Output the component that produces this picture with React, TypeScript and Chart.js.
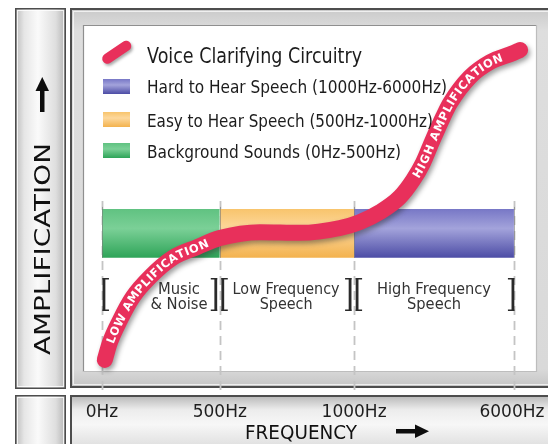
import React, { useEffect, useRef } from "react";
import { Chart, registerables } from "chart.js";

Chart.register(...registerables);

// ---------- data ----------
const frequencyTicks = ["0Hz", "500Hz", "1000Hz", "6000Hz"];
const frequencyTickPos = [0, 28.6, 61.2, 100];

const curveX = [0.7, 1.9, 4.4, 7.5, 11.7, 17.2, 23.1, 28.6, 38.3, 48.1, 57.8, 62.6, 67.5, 72.3, 75.5, 77.9, 80.3, 82.8, 84.5, 89.3, 94.2, 99.8, 101.5];
const curveY = [3.5, 8.4, 15.0, 21.6, 27.4, 32.9, 36.0, 38.6, 40.3, 40.1, 41.5, 43.2, 46.1, 50.4, 55.3, 60.2, 66.9, 73.5, 77.5, 85.0, 89.3, 91.9, 92.8];

const bandNames = ["Background Sounds", "Easy to Hear Speech", "Hard to Hear Speech"];
const bandFrom = [0, 28.6, 61.2];
const bandTo = [28.6, 61.2, 100];
const bandBottom = [32.9, 32.9, 32.9];
const bandTop = [47.0, 47.0, 47.0];

const legendLabels = [
  "Voice Clarifying Circuitry",
  "Hard to Hear Speech (1000Hz-6000Hz)",
  "Easy to Hear Speech (500Hz-1000Hz)",
  "Background Sounds (0Hz-500Hz)",
];

const rangeLabels = [
  ["Music", "& Noise"],
  ["Low Frequency", "Speech"],
  ["High Frequency", "Speech"],
];
const rangeLabelPos = [18.7, 44.7, 80.6];

const curveLabels = ["LOW AMPLIFICATION", "HIGH AMPLIFICATION"];
const curveLabelFrom = [1.9, 76.0];
const curveLabelTo = [25.7, 97.1];

const yTitle = "AMPLIFICATION";
const xTitle = "FREQUENCY";

// ---------- styles ----------
const FONT = "'DejaVu Sans', sans-serif";
const CURVE_COLOR = "#e8305b";
const bandGradStops = [
  ["#60c281", "#7bd097", "#2ea458"],
  ["#f8c46c", "#fdd89c", "#f3b24e"],
  ["#7777c6", "#a3a3db", "#4c4ca5"],
];

function vGrad(ctx: CanvasRenderingContext2D, y0: number, y1: number, stops: string[]) {
  const g = ctx.createLinearGradient(0, y0, 0, y1);
  g.addColorStop(0, stops[0]);
  g.addColorStop(0.4, stops[1]);
  g.addColorStop(1, stops[2]);
  return g;
}

function fillFitted(
  ctx: CanvasRenderingContext2D,
  text: string,
  x: number,
  y: number,
  size: number,
  width: number,
  align: CanvasTextAlign,
  weight = "normal"
) {
  ctx.font = `${weight} ${size}px ${FONT}`;
  const w = ctx.measureText(text).width;
  const sx = width / w;
  ctx.save();
  ctx.translate(x, y);
  ctx.scale(sx, 1);
  ctx.textAlign = align;
  ctx.textBaseline = "alphabetic";
  ctx.fillText(text, 0, 0);
  ctx.restore();
  return sx;
}

function panel(ctx: CanvasRenderingContext2D, x: number, y: number, w: number, h: number) {
  const g = ctx.createLinearGradient(x, 0, x + w, 0);
  g.addColorStop(0, "#b9b9b9");
  g.addColorStop(0.18, "#e6e6e6");
  g.addColorStop(0.45, "#fafafa");
  g.addColorStop(0.8, "#dedede");
  g.addColorStop(1, "#b2b2b2");
  ctx.fillStyle = g;
  ctx.fillRect(x, y, w, h);
  ctx.strokeStyle = "#4d4d4d";
  ctx.lineWidth = 1.5;
  ctx.strokeRect(x + 0.75, y + 0.75, w - 1.5, h - 1.5);
  ctx.strokeStyle = "rgba(255,255,255,0.8)";
  ctx.lineWidth = 1;
  ctx.strokeRect(x + 2.5, y + 2.5, w - 5, h - 5);
}

function bracket(ctx: CanvasRenderingContext2D, x: number, top: number, bottom: number, dir: number) {
  ctx.fillRect(x - 1.4, top, 2.8, bottom - top);
  const sx = dir > 0 ? x - 1.4 : x - 5;
  ctx.fillRect(sx, top, 6.4, 1.5);
  ctx.fillRect(sx, bottom - 1.5, 6.4, 1.5);
}

function curvePolyline(chart: any) {
  const pts = chart.getDatasetMeta(0).data as any[];
  const poly: { x: number; y: number }[] = [];
  for (let i = 0; i < pts.length - 1; i++) {
    const a = pts[i];
    const b = pts[i + 1];
    const c1x = a.cp2x ?? a.x, c1y = a.cp2y ?? a.y;
    const c2x = b.cp1x ?? b.x, c2y = b.cp1y ?? b.y;
    for (let k = 0; k < 20; k++) {
      const t = k / 20;
      const mt = 1 - t;
      const x = mt * mt * mt * a.x + 3 * mt * mt * t * c1x + 3 * mt * t * t * c2x + t * t * t * b.x;
      const y = mt * mt * mt * a.y + 3 * mt * mt * t * c1y + 3 * mt * t * t * c2y + t * t * t * b.y;
      poly.push({ x, y });
    }
  }
  const last = pts[pts.length - 1];
  poly.push({ x: last.x, y: last.y });
  const cum = [0];
  for (let i = 1; i < poly.length; i++) {
    cum.push(cum[i - 1] + Math.hypot(poly[i].x - poly[i - 1].x, poly[i].y - poly[i - 1].y));
  }
  return { poly, cum };
}

function arcAtX(poly: { x: number; y: number }[], cum: number[], px: number) {
  for (let i = 1; i < poly.length; i++) {
    if (poly[i].x >= px) {
      const f = (px - poly[i - 1].x) / Math.max(1e-6, poly[i].x - poly[i - 1].x);
      return cum[i - 1] + f * (cum[i] - cum[i - 1]);
    }
  }
  return cum[cum.length - 1];
}

function pointAtArc(poly: { x: number; y: number }[], cum: number[], s: number) {
  let i = 1;
  while (i < cum.length - 1 && cum[i] < s) i++;
  const f = (s - cum[i - 1]) / Math.max(1e-6, cum[i] - cum[i - 1]);
  const a = poly[i - 1], b = poly[i];
  return { x: a.x + (b.x - a.x) * f, y: a.y + (b.y - a.y) * f, ang: Math.atan2(b.y - a.y, b.x - a.x) };
}

const decorPlugin = {
  id: "decor",
  beforeDraw(chart: any) {
    const ctx: CanvasRenderingContext2D = chart.ctx;
    const ca = chart.chartArea;
    ctx.save();
    panel(ctx, 15, 8, 51, 381);
    panel(ctx, 15, 395, 51, 60);
    const g = ctx.createLinearGradient(0, 8, 0, 388);
    g.addColorStop(0, "#c9c9c9");
    g.addColorStop(0.06, "#dedede");
    g.addColorStop(0.95, "#d9d9d9");
    g.addColorStop(1, "#c4c4c4");
    ctx.fillStyle = g;
    ctx.fillRect(70, 8, 490, 380);
    ctx.strokeStyle = "#4d4d4d";
    ctx.lineWidth = 2;
    ctx.strokeRect(71, 9, 490, 378);
    ctx.strokeStyle = "rgba(255,255,255,0.7)";
    ctx.lineWidth = 1;
    ctx.strokeRect(73.5, 11.5, 490, 373);
    ctx.fillStyle = "#ffffff";
    ctx.fillRect(ca.left, ca.top, ca.right - ca.left, ca.bottom - ca.top);
    ctx.strokeStyle = "#8f8f8f";
    ctx.lineWidth = 1.2;
    ctx.beginPath();
    ctx.moveTo(ca.left + 0.5, ca.bottom);
    ctx.lineTo(ca.left + 0.5, ca.top + 0.5);
    ctx.lineTo(ca.right, ca.top + 0.5);
    ctx.stroke();
    ctx.strokeStyle = "#bdbdbd";
    ctx.beginPath();
    ctx.moveTo(ca.left, ca.bottom - 0.5);
    ctx.lineTo(ca.right - 0.5, ca.bottom - 0.5);
    ctx.lineTo(ca.right - 0.5, ca.top);
    ctx.stroke();
    const gb = ctx.createLinearGradient(0, 395, 0, 444);
    gb.addColorStop(0, "#b5b5b5");
    gb.addColorStop(0.3, "#ececec");
    gb.addColorStop(0.6, "#f7f7f7");
    gb.addColorStop(1, "#e2e2e2");
    ctx.fillStyle = gb;
    ctx.fillRect(70, 395, 490, 60);
    ctx.strokeStyle = "#4d4d4d";
    ctx.lineWidth = 2;
    ctx.strokeRect(71, 396, 490, 60);
    ctx.restore();
  },
  beforeDatasetsDraw(chart: any) {
    const ctx: CanvasRenderingContext2D = chart.ctx;
    const xs = chart.scales.x;
    const ys = chart.scales.y;
    ctx.save();
    ctx.strokeStyle = "#c4c4c4";
    ctx.lineWidth = 1.8;
    ctx.setLineDash([9, 6]);
    const top = ys.getPixelForValue(bandTop[0]) - 8;
    frequencyTickPos.forEach((v) => {
      const px = Math.round(xs.getPixelForValue(v)) + 0.5;
      ctx.beginPath();
      ctx.moveTo(px, top);
      ctx.lineTo(px, 392);
      ctx.stroke();
    });
    ctx.restore();
  },
  beforeDatasetDraw(chart: any, args: any) {
    if (args.index !== 0) return;
    const ctx: CanvasRenderingContext2D = chart.ctx;
    const xs = chart.scales.x;
    const ys = chart.scales.y;
    ctx.save();
    ctx.strokeStyle = "rgba(120,120,120,0.6)";
    ctx.lineWidth = 1;
    frequencyTickPos.forEach((v) => {
      const px = Math.round(xs.getPixelForValue(v)) + 0.5;
      ctx.beginPath();
      ctx.moveTo(px, ys.getPixelForValue(bandTop[0]) - 2);
      ctx.lineTo(px, ys.getPixelForValue(bandBottom[0]));
      ctx.stroke();
    });
    ctx.restore();
    ctx.save();
    ctx.shadowColor = "rgba(40,40,40,0.45)";
    ctx.shadowBlur = 5;
    ctx.shadowOffsetX = 2;
    ctx.shadowOffsetY = 3;
  },
  afterDatasetDraw(chart: any, args: any) {
    if (args.index !== 0) return;
    chart.ctx.restore();
  },
  afterDatasetsDraw(chart: any) {
    const ctx: CanvasRenderingContext2D = chart.ctx;
    const xs = chart.scales.x;
    ctx.save();

    const { poly, cum } = curvePolyline(chart);
    ctx.fillStyle = "#ffffff";
    const cs = 11.5;
    ctx.font = `bold ${cs}px ${FONT}`;
    ctx.textAlign = "center";
    ctx.textBaseline = "alphabetic";
    curveLabels.forEach((label, li) => {
      const s0 = arcAtX(poly, cum, xs.getPixelForValue(curveLabelFrom[li]));
      const s1 = arcAtX(poly, cum, xs.getPixelForValue(curveLabelTo[li]));
      const chars = [...label];
      const widths = chars.map((c) => ctx.measureText(c).width);
      const total = widths.reduce((a, b) => a + b, 0);
      const k = Math.min(1, (s1 - s0) / total);
      const sp = (s1 - s0 - total * k) / (chars.length - 1);
      let s = s0;
      chars.forEach((c, i) => {
        const w = widths[i] * k;
        const p = pointAtArc(poly, cum, s + w / 2);
        ctx.save();
        ctx.translate(p.x, p.y);
        ctx.rotate(p.ang);
        ctx.scale(k, 1);
        ctx.fillText(c, 0, cs * 0.36);
        ctx.restore();
        s += w + sp;
      });
    });

    // legend
    ctx.save();
    ctx.shadowColor = "rgba(40,40,40,0.4)";
    ctx.shadowBlur = 3;
    ctx.shadowOffsetX = 1.5;
    ctx.shadowOffsetY = 2;
    ctx.strokeStyle = CURVE_COLOR;
    ctx.lineWidth = 10.5;
    ctx.lineCap = "round";
    ctx.beginPath();
    ctx.moveTo(107.5, 58.5);
    ctx.lineTo(126, 46);
    ctx.stroke();
    ctx.restore();
    const legendBoxY = [79, 112, 143];
    const legendBands = [2, 1, 0];
    legendBoxY.forEach((y, i) => {
      ctx.fillStyle = vGrad(ctx, y, y + 15, bandGradStops[legendBands[i]]);
      ctx.fillRect(103, y, 27, 15);
    });
    ctx.fillStyle = "#1c1c1c";
    fillFitted(ctx, legendLabels[0], 147, 63, 21.5, 215, "left");
    const legendBase = [93, 126.5, 158];
    const legendW = [300, 286, 254];
    legendBase.forEach((b, i) => fillFitted(ctx, legendLabels[i + 1], 147, b, 17.5, legendW[i], "left"));

    // range labels
    ctx.fillStyle = "#333333";
    const rangeW = [42, 107, 114];
    rangeLabels.forEach((lines, i) => {
      const cx = xs.getPixelForValue(rangeLabelPos[i]);
      const sx = fillFitted(ctx, lines[0], cx, 294, 15, rangeW[i], "center");
      ctx.font = `normal 15px ${FONT}`;
      const w2 = ctx.measureText(lines[1]).width * sx;
      fillFitted(ctx, lines[1], cx, 309, 15, w2, "center");
    });

    // brackets
    ctx.fillStyle = "#2a2a2a";
    const bt = 278, bb = 311;
    frequencyTickPos.forEach((v, i) => {
      const px = xs.getPixelForValue(v);
      if (i > 0) bracket(ctx, px - (i === frequencyTickPos.length - 1 ? 1 : 4), bt, bb, -1);
      if (i < frequencyTickPos.length - 1) bracket(ctx, px + (i === 0 ? 2 : 3), bt, bb, 1);
    });

    // frequency tick labels
    ctx.fillStyle = "#1e1e1e";
    ctx.font = `normal 17px ${FONT}`;
    ctx.textAlign = "center";
    ctx.textBaseline = "alphabetic";
    frequencyTicks.forEach((t, i) => {
      let px = xs.getPixelForValue(frequencyTickPos[i]);
      if (i === frequencyTicks.length - 1) px -= 2;
      ctx.fillText(t, px, 417);
    });

    // axis titles
    ctx.fillStyle = "#111111";
    fillFitted(ctx, xTitle, 301, 439, 19.5, 112, "center");
    ctx.save();
    ctx.translate(42, 249);
    ctx.rotate(-Math.PI / 2);
    fillFitted(ctx, yTitle, 0, 8, 22, 212, "center");
    ctx.restore();

    // arrows
    ctx.fillStyle = "#0d0d0d";
    ctx.fillRect(40, 89, 4.5, 23);
    ctx.beginPath();
    ctx.moveTo(42.25, 77);
    ctx.lineTo(49, 91);
    ctx.lineTo(35.5, 91);
    ctx.closePath();
    ctx.fill();
    ctx.fillRect(396, 429, 20, 4.5);
    ctx.beginPath();
    ctx.moveTo(429, 431.25);
    ctx.lineTo(415, 424.5);
    ctx.lineTo(415, 438);
    ctx.closePath();
    ctx.fill();

    ctx.restore();
  },
};

export default function App() {
  const ref = useRef<HTMLCanvasElement>(null);
  useEffect(() => {
    const canvas = ref.current;
    if (!canvas) return;
    const bandDatasets = bandNames.map((name, i) => ({
      label: name,
      data: [
        { x: bandFrom[i], y: bandTop[i] },
        { x: bandTo[i], y: bandTop[i] },
      ],
      borderColor: "rgba(0,0,0,0)",
      borderWidth: 1,
      pointRadius: 0,
      tension: 0,
      fill: { value: bandBottom[i] },
      backgroundColor: (c: any) => {
        const ch = c.chart;
        if (!ch.chartArea) return bandGradStops[i][0];
        const ys = ch.scales.y;
        return vGrad(ch.ctx, ys.getPixelForValue(bandTop[i]), ys.getPixelForValue(bandBottom[i]), bandGradStops[i]);
      },
    }));
    const chart = new Chart(canvas, {
      type: "line",
      data: {
        datasets: [
          {
            label: legendLabels[0],
            data: curveX.map((x, i) => ({ x, y: curveY[i] })),
            borderColor: CURVE_COLOR,
            borderWidth: 16,
            borderCapStyle: "round",
            borderJoinStyle: "round",
            cubicInterpolationMode: "monotone",
            pointRadius: 0,
            fill: false,
            clip: false as any,
          },
          ...bandDatasets,
        ] as any,
      },
      options: {
        responsive: false,
        animation: false,
        events: [],
        layout: { padding: { left: 83, top: 25, right: 11, bottom: 72 } },
        scales: {
          x: { type: "linear", min: -4.6, max: 105.6, display: false },
          y: { type: "linear", min: 0, max: 100, display: false },
        },
        plugins: {
          legend: { display: false },
          tooltip: { enabled: false },
          title: { display: false },
        },
      },
      plugins: [decorPlugin as any],
    });
    return () => chart.destroy();
  }, []);
  return (
    <div style={{ position: "absolute", left: 0, top: 0, width: 548, height: 444, background: "#ffffff" }}>
      <canvas ref={ref} width={548} height={444} style={{ display: "block" }} />
    </div>
  );
}
